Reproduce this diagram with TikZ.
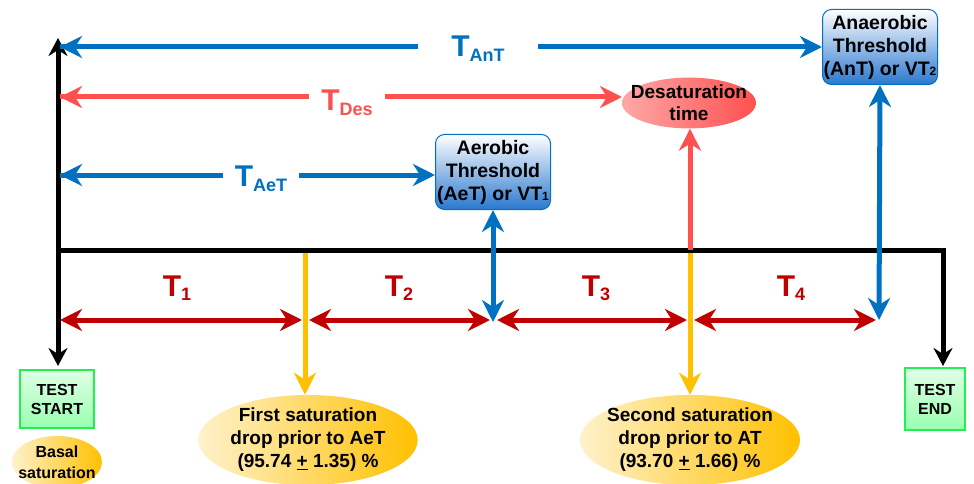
\documentclass[tikz,border=0pt]{standalone}
\usepackage{fontspec}
\setmainfont{Liberation Sans}
\usetikzlibrary{arrows.meta,shapes.geometric,shadings}
\definecolor{myblue}{HTML}{0070C0}
\definecolor{boxblue}{HTML}{2A78CF}
\definecolor{myred}{HTML}{FF5050}
\definecolor{dred}{HTML}{C00000}
\definecolor{myyel}{HTML}{FFC000}
\definecolor{lyel}{HTML}{FFF2CC}
\definecolor{mygreen}{HTML}{22F050}
\definecolor{lgreen}{HTML}{E0FFE6}
\definecolor{mgreen}{HTML}{98FFB0}
\newcommand\Tlab[2]{{\fontsize{30}{30}\selectfont T}\raisebox{-#2}{\fontsize{18}{18}\selectfont #1}}
\newcommand\fixw[2]{\makebox[#1][c]{#2}}
\tikzset{
  tip/.tip={Stealth[length=22pt,width=22pt,inset=7pt]},
  btip/.tip={Stealth[length=18pt,width=19pt,inset=6pt]},
  conn/.style={line width=5pt},
  blk/.style={line width=5pt,black},
  thr/.style={draw=myblue,line width=1pt,rounded corners=9pt,top color=white,bottom color=boxblue,
     align=center,font=\bfseries\fontsize{19.5}{23}\selectfont,minimum width=115pt,minimum height=75pt,inner sep=0pt},
  sat/.style={ellipse,left color=lyel,right color=myyel,align=center,inner sep=0pt,
     font=\bfseries\fontsize{19}{23}\selectfont},
  gbox/.style={draw=mygreen,line width=2.5pt,top color=lgreen,bottom color=mgreen,align=center,
     font=\bfseries\fontsize{16}{19}\selectfont,inner sep=0pt},
  tl/.style={fill=white,font=\bfseries,inner ysep=2pt},
}
\begin{document}
\begin{tikzpicture}[x=1pt,y=-1pt]
\useasboundingbox (0,0) rectangle (974,484);
% nodes
\node[thr] (AeT) at (493,172) {\fixw{100pt}{Aerobic}\\Threshold\\(AeT) or VT{\fontsize{12}{12}\selectfont 1}};
\node[thr] (AnT) at (880,47) {\fixw{100pt}{Anaerobic}\\Threshold\\(AnT) or VT{\fontsize{12}{12}\selectfont 2}};
\node[ellipse,left color=white!50!myred,right color=myred,minimum width=134pt,minimum height=50pt,inner sep=0pt,
      align=center,font=\bfseries\fontsize{19}{22}\selectfont] (Des) at (689,103) {\fixw{80pt}{Desaturation}\\\fixw{80pt}{time}};
\node[gbox,minimum width=74pt,minimum height=58pt] (start) at (57,399) {TEST\\START};
\node[gbox,minimum width=60pt,minimum height=62pt] (end) at (935,399) {TEST\\END};
\node[sat,minimum width=90pt,minimum height=52pt,font=\bfseries\fontsize{16}{21}\selectfont] (basal) at (57,462) {\fixw{50pt}{Basal}\\\fixw{50pt}{saturation}};
\node[sat,minimum width=216pt,minimum height=88pt] (fs) at (308,440) {\fixw{130pt}{First saturation}\\drop prior to AeT\\(95.74 \underline{+} 1.35) \%};
\node[sat,minimum width=220pt,minimum height=88pt] (ss) at (690,440) {\fixw{130pt}{Second saturation}\\drop prior to AT\\(93.70 \underline{+} 1.66) \%};
% axes
\coordinate (O) at (58,250);
\coordinate (top) at (58,38);
\coordinate (bot) at (58,366);
\coordinate (R) at (943,250);
\coordinate (Rb) at (943,366);
\draw[blk,-btip] (O) -- (top);
\draw[blk,-btip] (O) -- (bot);
\draw[blk,-btip] (O) -- (R) -- (Rb);
% top arrows
\coordinate (a1) at (60,47);
\coordinate (a2) at (60,97);
\coordinate (d2) at (622,97);
\coordinate (a3) at (60,175);
\draw[conn,myblue,-tip] (a1) -- (AnT.west);
\draw[conn,myred,-tip] (a2) -- (d2);
\draw[conn,myblue,-tip] (a3) -- (a3 -| AeT.west);
\draw[conn,myblue,tip-] (a1) -- +(30,0);
\draw[conn,myred,tip-] (a2) -- +(30,0);
\draw[conn,myblue,tip-] (a3) -- +(30,0);
\node[tl,text=myblue,inner xsep=33pt] (lAnT) at (478,49) {\Tlab{AnT}{5pt}};
\node[tl,text=myred,inner xsep=12pt] (lDes) at (347,103) {\Tlab{Des}{5pt}};
\node[tl,text=myblue,inner xsep=12pt] (lAeT) at (261,179) {\Tlab{AeT}{5pt}};
% verticals
\coordinate (v1) at (493,322);
\coordinate (v2) at (879,320);
\draw[conn,myblue,tip-tip] (AeT.south) -- (v1);
\draw[conn,myblue,tip-tip] (AnT.south) -- (v2);
\coordinate (r0) at (690,250);
\draw[conn,myred,-tip] (r0) -- (r0 |- Des.south);
\coordinate (y1) at (305,253);
\coordinate (y2) at (690,253);
\draw[conn,myyel,-tip] (y1) -- (y1 |- fs.north);
\draw[conn,myyel,-tip] (y2) -- (y2 |- ss.north);
% T intervals
\coordinate (t0) at (60,320);
\coordinate (t1) at (302,320);
\coordinate (t1b) at (309,320);
\coordinate (t2) at (490,320);
\coordinate (t2b) at (497,320);
\coordinate (t3) at (687,320);
\coordinate (t3b) at (694,320);
\coordinate (t4) at (876,320);
\draw[conn,dred,tip-tip] (t0) -- (t1);
\draw[conn,dred,tip-tip] (t1b) -- (t2);
\draw[conn,dred,tip-tip] (t2b) -- (t3);
\draw[conn,dred,tip-tip] (t3b) -- (t4);
\node[text=dred,font=\bfseries] (T1) at (177,288) {\Tlab{1}{4pt}};
\node[text=dred,font=\bfseries] (T2) at (399,288) {\Tlab{2}{4pt}};
\node[text=dred,font=\bfseries] (T3) at (596,288) {\Tlab{3}{4pt}};
\node[text=dred,font=\bfseries] (T4) at (791,288) {\Tlab{4}{4pt}};
\end{tikzpicture}
\end{document}
